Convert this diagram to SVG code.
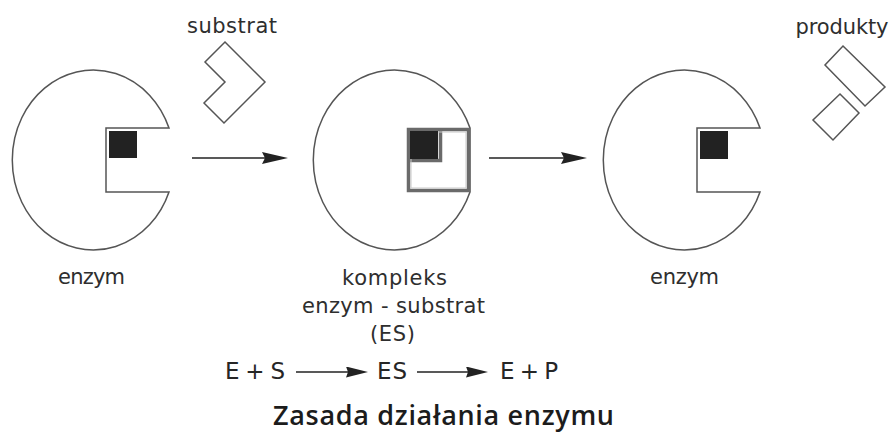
<svg xmlns="http://www.w3.org/2000/svg" width="890" height="432" viewBox="0 0 890 432">
  <style>
    .body { fill: #ffffff; stroke: #555555; stroke-width: 1.5; stroke-linejoin: miter; }
    .site { fill: #222222; }
    .shape { fill: #ffffff; stroke: #555555; stroke-width: 1.5; }
    .bound-outer { fill: none; stroke: #6a6a6a; stroke-width: 3.5; }
    .bound-inner { fill: none; stroke: #c8c8c8; stroke-width: 1; }
    .label { font-family: "DejaVu Sans", "Liberation Sans", sans-serif; font-size: 21px; fill: #2e2e2e; }
    .eq { font-family: "DejaVu Sans", "Liberation Sans", sans-serif; font-size: 23px; fill: #262626; }
    .title { font-family: "Open Sans", "Noto Sans", sans-serif; font-size: 27px; font-weight: 600; fill: #1c1c1c; }
    .conn { stroke: #222222; stroke-width: 1.6; fill: none; }
  </style>
  <defs>
    <marker id="head-lg" viewBox="0 0 26 12" refX="22" refY="6" markerWidth="26" markerHeight="12" markerUnits="userSpaceOnUse" orient="auto">
      <path d="M0,0 L26,6 L0,12 L3,6 Z" fill="#222222"/>
    </marker>
    <marker id="head-sm" viewBox="0 0 22 11" refX="18" refY="5.5" markerWidth="22" markerHeight="11" markerUnits="userSpaceOnUse" orient="auto">
      <path d="M0,0 L22,5.5 L0,11 L2,5.5 Z" fill="#222222"/>
    </marker>
  </defs>

  <rect width="890" height="432" fill="#ffffff"/>

  <!-- free enzyme -->
  <g id="enzyme-free">
    <path class="body" d="M169,128 A81,90 0 1 0 169,192 L106,192 L106,128 Z"/>
    <rect class="site" x="109" y="131" width="28" height="27"/>
    <text class="label" x="91.5" y="284" text-anchor="middle" textLength="67" lengthAdjust="spacing">enzym</text>
  </g>

  <!-- substrate -->
  <g id="substrate">
    <polygon class="shape" points="225,42 265,82 224,123 204,103 225,82 205,62"/>
    <text class="label" x="232" y="33" text-anchor="middle" textLength="90" lengthAdjust="spacing">substrat</text>
  </g>

  <!-- enzyme-substrate complex -->
  <g id="complex">
    <path class="body" d="M470,128 A81,90 0 1 0 470,192 Z"/>
    <rect class="bound-outer" x="408.5" y="129.5" width="60" height="61"/>
    <path class="bound-outer" d="M440.5,129.5 V160.5 H408.5"/>
    <rect class="bound-inner" x="411" y="132" width="55" height="56"/>
    <rect class="site" x="410" y="131" width="28" height="28"/>
    <text class="label" x="394.5" y="285" text-anchor="middle" textLength="105" lengthAdjust="spacing">kompleks</text>
    <text class="label" x="393.5" y="313" text-anchor="middle" textLength="183" lengthAdjust="spacing">enzym - substrat</text>
    <text class="label" x="392.5" y="341" text-anchor="middle" textLength="45" lengthAdjust="spacing">(ES)</text>
  </g>

  <!-- released enzyme -->
  <g id="enzyme-released">
    <path class="body" d="M760,128 A81,90 0 1 0 760,192 L697,192 L697,128 Z"/>
    <rect class="site" x="700" y="131" width="28" height="28"/>
    <text class="label" x="684.5" y="284" text-anchor="middle" textLength="69" lengthAdjust="spacing">enzym</text>
  </g>

  <!-- products -->
  <g id="products">
    <polygon class="shape" points="843,46 885,87 865,106 825,65"/>
    <polygon class="shape" points="840,94 859,113 833,140 813,120"/>
    <text class="label" x="842" y="34" text-anchor="middle" textLength="93" lengthAdjust="spacing">produkty</text>
  </g>

  <!-- reaction arrows -->
  <g id="connectors">
    <line class="conn" x1="192" y1="158" x2="284" y2="158" marker-end="url(#head-lg)"/>
    <line class="conn" x1="489" y1="158" x2="583" y2="158" marker-end="url(#head-lg)"/>
    <line class="conn" x1="296" y1="372" x2="364" y2="372" marker-end="url(#head-sm)"/>
    <line class="conn" x1="417" y1="372" x2="484" y2="372" marker-end="url(#head-sm)"/>
  </g>

  <!-- reaction scheme -->
  <g id="equation">
    <text class="eq" x="225" y="379" textLength="60" lengthAdjust="spacing">E + S</text>
    <text class="eq" x="377" y="379" textLength="30" lengthAdjust="spacing">ES</text>
    <text class="eq" x="500" y="379" textLength="58" lengthAdjust="spacing">E + P</text>
  </g>

  <g id="title">
    <text class="title" x="443.5" y="425" text-anchor="middle" textLength="341" lengthAdjust="spacing">Zasada działania enzymu</text>
  </g>
</svg>
